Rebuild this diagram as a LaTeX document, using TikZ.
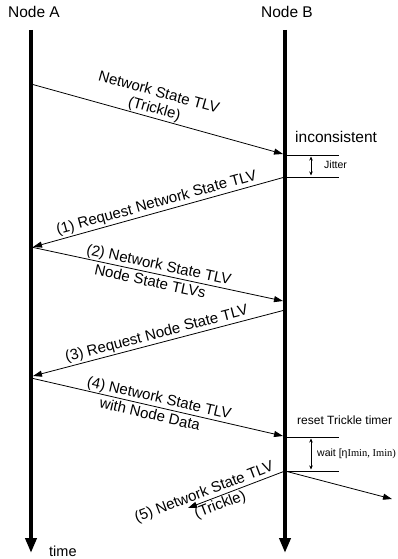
\documentclass[tikz,border=0pt]{standalone}
\usepackage{fontspec}
\setmainfont{Liberation Sans}
\newfontfamily\seriffont{Liberation Serif}
\usetikzlibrary{arrows.meta}
\begin{document}
\begin{tikzpicture}[x=1pt,y=-1pt,
  lifeline/.style={line width=3.8pt, -{Triangle[length=15pt,width=11pt]}},
  msg/.style={line width=0.8pt, -{Triangle[length=9pt,width=6pt]}},
  lbl/.style={font=\fontsize{15}{17}\selectfont, inner sep=1.5pt, align=center},
  head/.style={font=\fontsize{15.5}{17}\selectfont, inner sep=0pt},
  side/.style={font=\fontsize{15.5}{17}\selectfont, inner sep=0pt, anchor=west},
  tick/.style={line width=0.6pt},
  gap/.style={line width=0.6pt, {Stealth[length=4pt,width=3.5pt]}-{Stealth[length=4pt,width=3.5pt]}},
  small/.style={font=\fontsize{10.5}{12}\selectfont, anchor=west, inner sep=0pt}
]
\useasboundingbox (0,0) rectangle (398,559);

% headers
\node[head] (hA) at (34,12) {Node A};
\node[head] (hB) at (287,12) {Node B};

% lifelines
\coordinate (Atop) at (31,30);
\coordinate (Abot) at (31,553);
\coordinate (Btop) at (285,30);
\coordinate (Bbot) at (285,553);
\draw[lifeline] (Atop) -- (Abot);
\draw[lifeline] (Btop) -- (Bbot);
\node[head, anchor=west, font=\fontsize{14.5}{16}\selectfont] (time) at (49,551) {time};

% message 1
\coordinate (m1s) at (31,84);
\coordinate (m1e) at (283,154);
\draw[msg] (m1s) -- node[lbl, sloped, above, pos=0.48, inner sep=1pt] {Network State TLV\\(Trickle)} (m1e);
\node[side] (inc) at (295,137) {inconsistent};

% jitter
\coordinate (j1) at (285,155);
\coordinate (j1e) at (339,155);
\coordinate (j2) at (285,177);
\coordinate (j2e) at (339,177);
\draw[tick] (j1) -- (j1e);
\draw[tick] (j2) -- (j2e);
\coordinate (ja) at (311,156.5);
\coordinate (jb) at (311,175.5);
\draw[gap] (ja) -- (jb);
\node[small, font=\fontsize{10.5}{12}\selectfont] (jit) at (324,165) {Jitter};

% message 2
\coordinate (m2s) at (285,177);
\coordinate (m2e) at (33,247);
\draw[msg] (m2s) -- node[lbl, sloped, above, pos=0.5] {(1) Request Network State TLV} (m2e);

% message 3
\coordinate (m3s) at (31,247);
\coordinate (m3e) at (283,301);
\draw[msg] (m3s) -- node[lbl, sloped, above, pos=0.5, inner sep=1pt] {(2) Network State TLV}
                    node[lbl, sloped, below, pos=0.48, inner sep=2.5pt] {Node State TLVs} (m3e);

% message 4
\coordinate (m4s) at (285,310);
\coordinate (m4e) at (33,376);
\draw[msg] (m4s) -- node[lbl, sloped, above, pos=0.5] {(3) Request Node State TLV} (m4e);

% message 5
\coordinate (m5s) at (31,378);
\coordinate (m5e) at (283,436);
\draw[msg] (m5s) -- node[lbl, sloped, above, pos=0.5, inner sep=1pt] {(4) Network State TLV}
                    node[lbl, sloped, below, pos=0.48, inner sep=2.5pt] {with Node Data} (m5e);
\node[side, font=\fontsize{12}{14}\selectfont] (reset) at (297,420) {reset Trickle timer};

% wait
\coordinate (w1) at (285,437);
\coordinate (w1e) at (339,437);
\coordinate (w2) at (285,471);
\coordinate (w2e) at (339,471);
\draw[tick] (w1) -- (w1e);
\draw[tick] (w2) -- (w2e);
\coordinate (wa) at (311,438.5);
\coordinate (wb) at (311,469.5);
\draw[gap] (wa) -- (wb);
\node[small] (wait) at (317,454) {wait [η{\seriffont Imin, Imin)}};

% message 6
\coordinate (m6s) at (285,471);
\coordinate (m6e) at (188,508);
\draw[msg] (m6s) -- node[lbl, sloped, above, pos=0.8, inner sep=1pt] {(5) Network State TLV}
                    node[lbl, sloped, below, pos=0.7, inner sep=1.5pt] {(Trickle)} (m6e);

% message 7
\coordinate (m7s) at (285,471);
\coordinate (m7e) at (392,499);
\draw[msg] (m7s) -- (m7e);
\end{tikzpicture}
\end{document}
